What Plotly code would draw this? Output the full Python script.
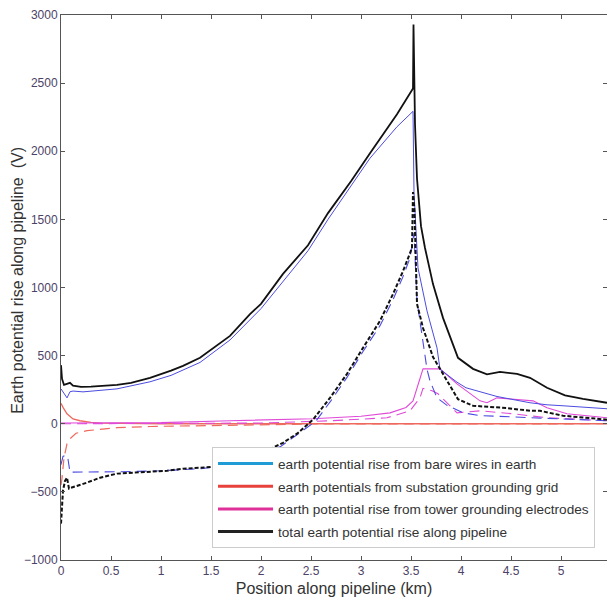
import plotly.graph_objects as go

# ---- data ----
tot_x = [0, 0.01, 0.03, 0.06, 0.09, 0.12, 0.2, 0.3, 0.56, 0.7, 0.89, 1.1, 1.22, 1.39, 1.69, 1.89, 2.0, 2.22,
         2.47, 2.67, 2.9, 3.09, 3.36, 3.52, 3.525, 3.54, 3.56, 3.6, 3.64, 3.72, 3.82, 3.97, 4.12, 4.26, 4.39,
         4.56, 4.69, 4.86, 5.04, 5.22, 5.46]
tot_y = [430, 330, 285, 290, 300, 280, 270, 272, 285, 300, 337, 390, 425, 484, 645, 805, 880, 1100,
         1310, 1546, 1780, 1985, 2271, 2461, 2930, 2198, 1800, 1450, 1290, 1025, 777, 484, 403, 363, 381,
         366, 337, 264, 208, 183, 154]

bare_x = [0, 0.03, 0.06, 0.09, 0.12, 0.22, 0.56, 0.89, 1.1, 1.39, 1.69, 2.0, 2.47, 2.67, 3.09, 3.36, 3.52,
          3.53, 3.57, 3.66, 3.76, 3.79, 3.96, 4.05, 4.36, 4.69, 4.86, 5.02, 5.46]
bare_y = [256, 220, 190, 235, 240, 234, 256, 308, 355, 450, 615, 845, 1270, 1500, 1949, 2180, 2293,
          1700, 1143, 828, 557, 400, 305, 264, 200, 154, 139, 132, 110]

bare_d_x = [0, 0.02, 0.05, 0.07, 0.09, 0.2, 0.6, 1.0, 1.4, 1.7, 2.0, 2.2, 2.4, 2.55, 2.7, 2.86, 3.02, 3.19,
            3.32, 3.42, 3.49, 3.53, 3.56, 3.61, 3.66, 3.69, 3.76, 3.86, 4.02, 4.19, 4.5, 4.86, 5.46]
bare_d_y = [-300, -240, -230, -260, -355, -355, -352, -345, -330, -300, -235, -165, -60, 20, 170, 340, 530, 720,
            910, 1080, 1217, 1400, 901, 650, 400, 315, 190, 135, 80, 60, 50, 37, 22]

sub_x = [0, 0.02, 0.06, 0.12, 0.19, 0.3, 0.4, 0.6, 1.0, 5.46]
sub_y = [150, 120, 73, 35, 22, 10, 5, 2, 0, 0]

sub_d_x = [0, 0.01, 0.03, 0.06, 0.09, 0.15, 0.26, 0.56, 0.89, 1.3, 1.9, 2.5, 5.46]
sub_d_y = [-450, -400, -250, -147, -110, -70, -51, -29, -20, -15, -5, -2, 0]

tow_x = [0, 1.0, 1.69, 2.52, 3.0, 3.29, 3.45, 3.52, 3.62, 3.79, 3.96, 4.19, 4.26, 4.36, 4.72, 4.86, 5.06, 5.46]
tow_y = [5, 8, 22, 37, 55, 80, 120, 168, 403, 403, 293, 168, 154, 190, 168, 117, 73, 44]

tow_d_x = [0, 2.0, 2.7, 3.26, 3.49, 3.59, 3.62, 3.71, 3.77, 3.96, 4.19, 4.52, 4.86, 5.46]
tow_d_y = [0, 5, 22, 44, 95, 190, 260, 242, 220, 80, 95, 73, 44, 22]

tot_d_x = [0, 0.01, 0.02, 0.04, 0.06, 0.08, 0.1, 0.26, 0.39, 0.56, 0.89, 1.06, 1.22, 1.56, 1.89, 2.09, 2.22,
           2.36, 2.52, 2.69, 2.86, 3.02, 3.19, 3.32, 3.42, 3.51, 3.52, 3.535, 3.56, 3.62, 3.72, 3.82, 3.97,
           4.12, 4.26, 4.46, 4.69, 4.79, 5.02, 5.46]
tot_d_y = [-733, -600, -490, -420, -396, -476, -470, -432, -396, -366, -352, -345, -330, -315, -256, -183, -140,
           -73, 30, 190, 366, 557, 755, 952, 1120, 1290, 1700, 1560, 880, 703, 490, 366, 180,
           132, 125, 115, 95, 95, 59, 30]

legend_names = ["earth potential rise from bare wires in earth",
                "earth potentials from substation grounding grid",
                "earth potential rise from tower grounding electrodes",
                "total earth potential rise along pipeline"]
legend_colors = ["#1f9bd6", "#e8413c", "#e0309a", "#222222"]

x_ticks = [0, 0.5, 1, 1.5, 2, 2.5, 3, 3.5, 4, 4.5, 5]
x_ticktext = ["0", "0.5", "1", "1.5", "2", "2.5", "3", "3.5", "4", "4.5", "5"]
y_ticks = [-1000, -500, 0, 500, 1000, 1500, 2000, 2500, 3000]

BLUE = "#4b4be0"
RED = "#ee6a5e"
MAG = "#e04ad8"

fig = go.Figure()

def add(x, y, color, width, dash=None):
    fig.add_trace(go.Scatter(x=x, y=y, mode="lines", showlegend=False, hoverinfo="skip",
                             line=dict(color=color, width=width, dash=dash or "solid")))

add(sub_x, sub_y, RED, 1.3)
add(sub_d_x, sub_d_y, RED, 1.2, "10px,6px")
add(tow_x, tow_y, MAG, 1.1)
add(tow_d_x, tow_d_y, MAG, 1.1, "10px,6px")
add(bare_x, bare_y, BLUE, 1.0)
add(bare_d_x, bare_d_y, BLUE, 1.1, "10px,6px")
add(tot_d_x, tot_d_y, "#111111", 2.0, "4px,2px")
add(tot_x, tot_y, "#111111", 1.8)

for i, (name, col) in enumerate(zip(legend_names, legend_colors)):
    fig.add_trace(go.Scatter(x=[None], y=[None], mode="lines", name=name, legendgroup=f"g{i}",
                             line=dict(color=col, width=3)))

axis_common = dict(showgrid=False, zeroline=False, showline=True, linecolor="#555555", linewidth=1,
                   ticks="inside", ticklen=4, tickcolor="#555555",
                   tickfont=dict(family="Arial", size=12, color="#4d4266"))

fig.update_layout(
    width=607, height=600,
    margin=dict(l=61, r=0, t=15, b=40),
    plot_bgcolor="white", paper_bgcolor="white",
    font=dict(family="Arial", color="#333333"),
    xaxis=dict(range=[0, 5.46], tickvals=x_ticks, ticktext=x_ticktext, mirror="ticks",
               title=dict(text="Position along pipeline (km)", font=dict(size=16, color="#333333"), standoff=5),
               **axis_common),
    yaxis=dict(range=[-1000, 3000], tickvals=y_ticks, **axis_common),
    yaxis2=dict(range=[-1000, 3000], overlaying="y", side="right", tickvals=y_ticks[1:-1], showticklabels=False,
                showgrid=False, zeroline=False, showline=False, ticks="inside", ticklen=4, tickcolor="#555555"),
    legend=dict(x=0.2766, y=0.207, xanchor="left", yanchor="top", bgcolor="white",
                bordercolor="#cccccc", borderwidth=1, itemwidth=55, tracegroupgap=2,
                font=dict(family="Arial", size=13.6, color="#333333")),
    annotations=[dict(text="Earth potential rise along pipeline  (V)", textangle=-90,
                      xref="paper", yref="paper", x=-0.0788, y=0.514, xanchor="center", yanchor="middle",
                      showarrow=False, font=dict(family="Arial", size=16, color="#333333"))],
)
fig.add_trace(go.Scatter(x=[None], y=[None], yaxis="y2", showlegend=False))

fig.write_html("out.html")
